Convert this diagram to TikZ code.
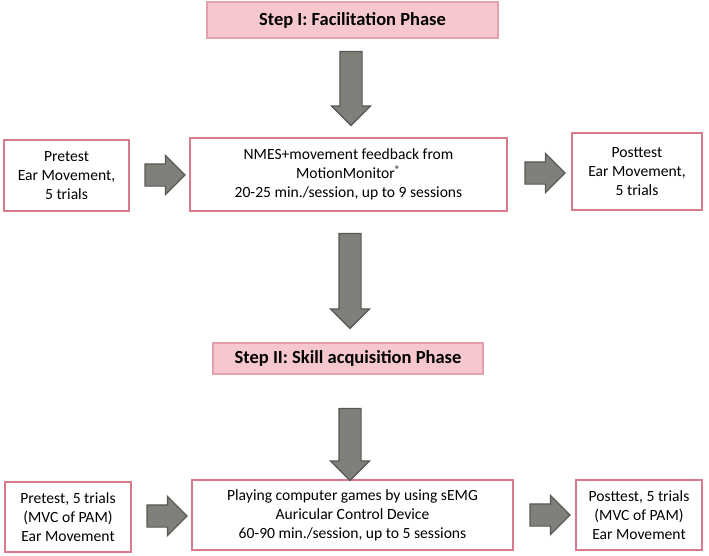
\documentclass[tikz,border=0pt]{standalone}
\usepackage{fontspec}
\setmainfont{Carlito}
\usepackage{tikz}
\usetikzlibrary{shapes.arrows,calc}

\definecolor{boxpink}{RGB}{216,122,140}
\definecolor{titlefill}{RGB}{246,200,206}
\definecolor{titleline}{RGB}{228,160,172}
\definecolor{arrfill}{RGB}{128,128,122}
\definecolor{arrline}{RGB}{88,88,86}

\tikzset{
  stepbox/.style={draw=boxpink, line width=2.6pt, fill=white, align=center,
    inner sep=0pt, font=\fontsize{15.6}{19}\selectfont},
  phasebox/.style={draw=titleline, line width=1.2pt, fill=titlefill, inner sep=0pt,
    font=\fontsize{18.5}{20}\selectfont\bfseries},
  bigarrow/.style={single arrow, draw=arrline, line width=1.2pt, fill=arrfill,
    inner sep=0pt, text height=10.5pt, text depth=10.5pt,
    single arrow head extend=8.5pt}
}

\begin{document}
\begin{tikzpicture}[x=1pt,y=-1pt]
        \useasboundingbox (0,0) rectangle (709,555);

        \node[phasebox, minimum width=291pt, minimum height=36pt] (t1) at (352.5,20) {Step I: Facilitation Phase};

        \node[stepbox, minimum width=125pt, minimum height=71pt] (pre1) at (66.5,175.5) {Pretest\\Ear Movement,\\5 trials};
        \node[stepbox, minimum width=317pt, minimum height=73pt] (nmes) at (348.5,174.5) {NMES+movement feedback from\\MotionMonitor\textsuperscript{\textregistered}\\20-25 min./session, up to 9 sessions};
        \node[stepbox, minimum width=130pt, minimum height=77pt] (post1) at (637,171.5) {Posttest\\Ear Movement,\\5 trials};

        \node[phasebox, minimum width=270pt, minimum height=31pt] (t2) at (348,358.5) {Step II: Skill acquisition Phase};

        \node[stepbox, minimum width=126pt, minimum height=70pt] (pre2) at (68,517) {Pretest, 5 trials\\(MVC of PAM)\\Ear Movement};
        \node[stepbox, minimum width=321pt, minimum height=70pt] (game) at (352.5,515) {Playing computer games by using sEMG\\Auricular Control Device\\60-90 min./session, up to 5 sessions};
        \node[stepbox, minimum width=126pt, minimum height=70pt] (post2) at (639,515) {Posttest, 5 trials\\(MVC of PAM)\\Ear Movement};

        % block arrows between the boxes
        \node[bigarrow, rotate=-90, minimum height=74pt] (a1) at (351,83) {};
        \node[bigarrow, rotate=-90, minimum height=95pt] (a2) at (350,275.5) {};
        \node[bigarrow, rotate=-90, minimum height=72pt] (a3) at (350,439) {};

        \node[bigarrow, minimum height=40pt] (r1) at ($(pre1.east)!0.5!(nmes.west)$) {};
        \node[bigarrow, minimum height=40pt] (r2) at ($(nmes.east)!0.5!(post1.west)$) {};
        \node[bigarrow, minimum height=40pt] (r3) at ($(pre2.east)!0.5!(game.west)$) {};
        \node[bigarrow, minimum height=40pt] (r4) at ($(game.east)!0.5!(post2.west)$) {};
      \end{tikzpicture}
\end{document}
